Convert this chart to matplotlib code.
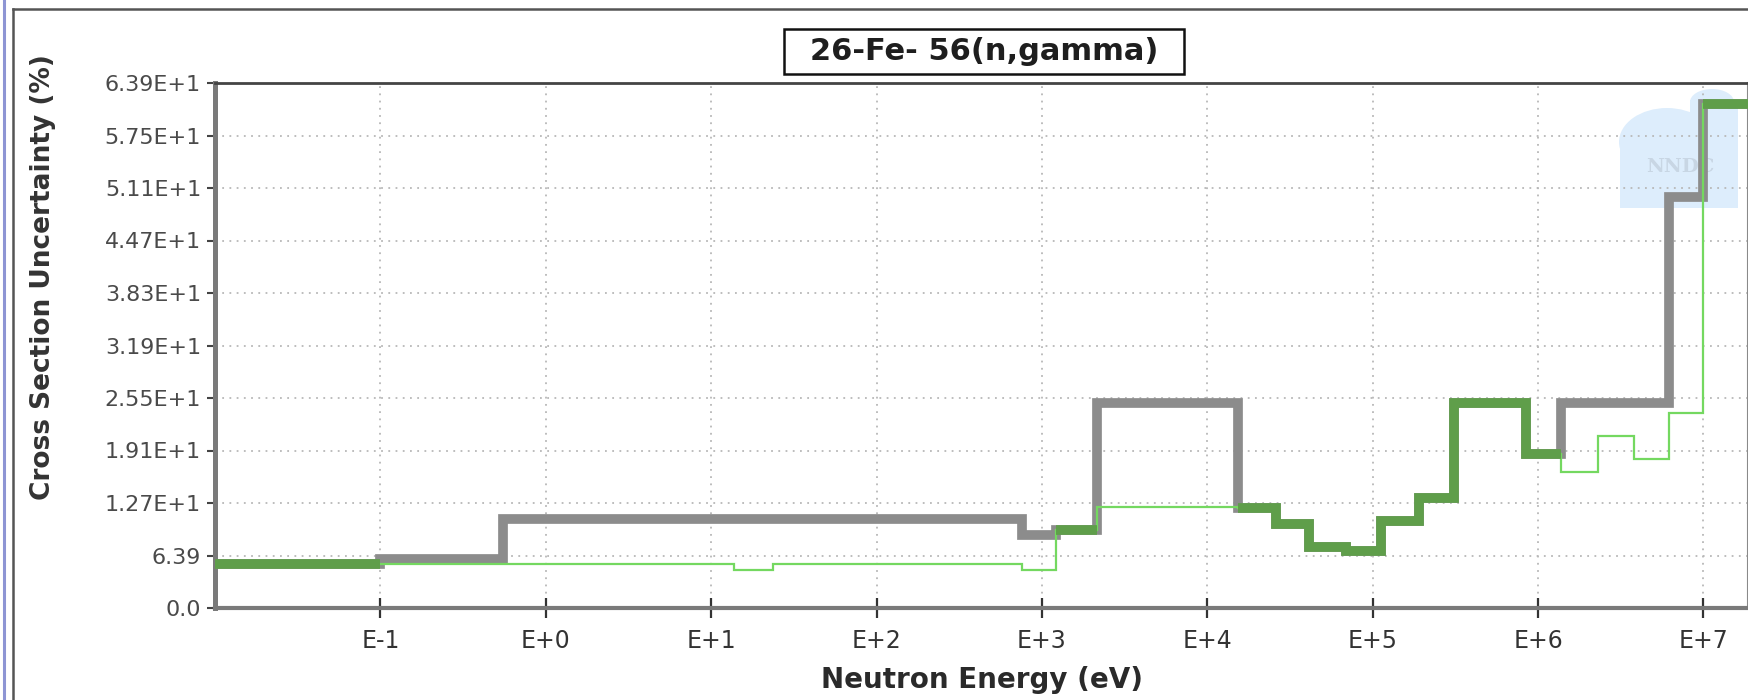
##################################
# PLOT DATA

import numpy as np
import matplotlib
matplotlib.use('Agg')
import matplotlib.pyplot as plt
from matplotlib.lines import Line2D
from matplotlib.patches import Rectangle, Ellipse
from matplotlib.ticker import NullLocator

# group boundaries (eV), shared by both evaluations
energy_edges = [1e-5, 0.1, 0.55, 13.7, 23.6, 753, 1225, 2140, 1.54e4, 2.61e4,
                4.13e4, 6.9e4, 1.12e5, 1.9e5, 3.1e5, 8.43e5, 1.37e6, 2.3e6,
                3.78e6, 6.17e6, 1.0e7, 2.0e7]
# relative uncertainty (%) per group
unc_gray = [5.3, 6.0, 10.8, 10.8, 10.8, 8.9, 9.5, 25.0, 12.2, 10.2, 7.4, 6.9,
            10.6, 13.4, 25.0, 18.7, 25.0, 25.0, 25.0, 50.0, 61.3]
unc_green = [5.3, 5.3, 5.3, 4.6, 5.3, 4.6, 9.5, 12.3, 12.2, 10.2, 7.4, 6.9,
             10.6, 13.4, 25.0, 18.7, 16.6, 20.9, 18.1, 23.7, 61.3]

ytick_values = [0.0, 6.39, 12.78, 19.17, 25.56, 31.95, 38.34, 44.73, 51.12, 57.51, 63.9]
ytick_labels = ['0.0', '6.39', '1.27E+1', '1.91E+1', '2.55E+1', '3.19E+1',
                '3.83E+1', '4.47E+1', '5.11E+1', '5.75E+1', '6.39E+1']
xtick_values = [1e-1, 1e0, 1e1, 1e2, 1e3, 1e4, 1e5, 1e6, 1e7]
xtick_labels = ['E-1', 'E+0', 'E+1', 'E+2', 'E+3', 'E+4', 'E+5', 'E+6', 'E+7']

W, H = 1749, 700


def fx(px):
    return px / W


def fy(py):
    return 1 - py / H


fig = plt.figure(figsize=(W / 100, H / 100), dpi=100)
fig.patch.set_facecolor('white')
ax = fig.add_axes([fx(215), fy(608), fx(1748) - fx(215), (608 - 83) / H])

edges = np.array(energy_edges)
gray = np.array(unc_gray)
green = np.array(unc_green)
both = np.where(np.isclose(gray, green), gray, np.nan)

ax.step(edges, np.append(gray, gray[-1]), where='post', color='#8c8c8c', lw=7,
        solid_joinstyle='miter', solid_capstyle='butt', zorder=3)
ax.step(edges, np.append(green, green[-1]), where='post', color='#74d860', lw=1.6,
        solid_joinstyle='miter', zorder=4)
ax.step(edges, np.append(both, both[-1]), where='post', color='#5f9e4a', lw=7,
        solid_joinstyle='miter', solid_capstyle='butt', zorder=5)

ax.set_xscale('log')
ax.set_xlim(1e-2, 1.86e7)
ax.set_ylim(0, 63.9)
ax.set_xticks(xtick_values, labels=xtick_labels)
ax.xaxis.set_minor_locator(NullLocator())
ax.set_yticks(ytick_values, labels=ytick_labels)

ax.set_axisbelow(True)
ax.grid(True, color='#b8b8b8', linestyle=(0, (1, 3)), linewidth=1.3)

ax.tick_params(axis='x', direction='inout', length=14, width=1.6, color='#333333',
               labelsize=17, labelcolor='#333333', pad=8)
ax.tick_params(axis='y', direction='out', length=6, width=1.5, color='#444444',
               labelsize=16, labelcolor='#4a4a4a', pad=4)

ax.spines['left'].set_linewidth(3.6)
ax.spines['left'].set_color('#7a7a7a')
ax.spines['bottom'].set_linewidth(3.0)
ax.spines['bottom'].set_color('#7a7a7a')
ax.spines['top'].set_linewidth(2.0)
ax.spines['top'].set_color('#444444')
ax.spines['right'].set_linewidth(1.5)
ax.spines['right'].set_color('#8a8a8a')

# NNDC watermark
wm = '#ddedfc'
ax.add_patch(Rectangle((fx(1620), fy(208)), fx(118), 68 / H, transform=fig.transFigure,
                       fc=wm, ec='none', zorder=0.3, clip_on=False))
ax.add_patch(Ellipse((fx(1667), fy(142)), fx(96), 68 / H, transform=fig.transFigure,
                     fc=wm, ec='none', zorder=0.3, clip_on=False))
ax.add_patch(Rectangle((fx(1690), fy(142)), fx(48), 42 / H, transform=fig.transFigure,
                       fc=wm, ec='none', zorder=0.3, clip_on=False))
ax.add_patch(Ellipse((fx(1712), fy(102)), fx(44), 26 / H, transform=fig.transFigure,
                     fc=wm, ec='none', zorder=0.3, clip_on=False))
ax.text(fx(1680), fy(167), 'NNDC', transform=fig.transFigure, ha='center', va='center',
        fontsize=14, family='DejaVu Serif', fontweight='bold', color='#c8d6e4', zorder=0.4)

# title box
fig.text(fx(984), fy(51), '26-Fe- 56(n,gamma)', ha='center', va='center', fontsize=22,
         fontweight='bold', color='#1e1e1e')
fig.add_artist(Rectangle((fx(784), fy(74)), fx(400), 45 / H, transform=fig.transFigure,
                         fill=False, ec='#111111', lw=1.8))

fig.text(fx(43), fy(277), 'Cross Section Uncertainty (%)', rotation=90, ha='center',
         va='center', fontsize=19, fontweight='bold', color='#333333')
fig.text(fx(982), fy(688), 'Neutron Energy (eV)', ha='center', va='baseline',
         fontsize=20, fontweight='bold', color='#2a2a2a')

# panel frame
fig.add_artist(Line2D([fx(4), fx(4)], [0, 1], transform=fig.transFigure,
                      color='#8e95d4', lw=2.2))
fig.add_artist(Line2D([fx(13), fx(13)], [0, fy(9)], transform=fig.transFigure,
                      color='#555555', lw=1.8))
fig.add_artist(Line2D([fx(13), 1], [fy(9), fy(9)], transform=fig.transFigure,
                      color='#555555', lw=1.8))

fig.savefig('out.png', dpi=100)
